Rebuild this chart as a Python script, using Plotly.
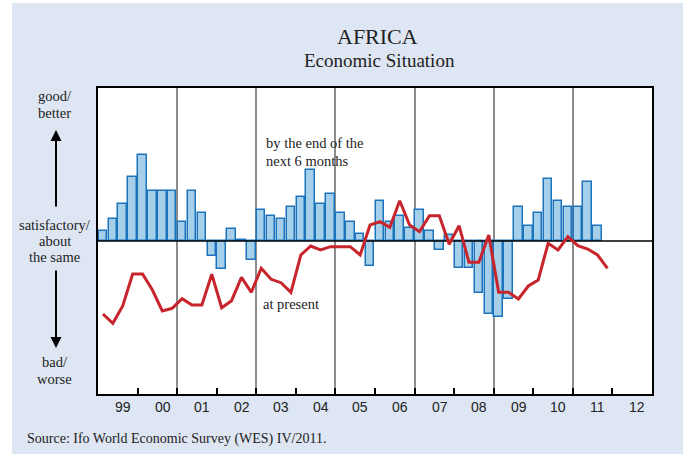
import plotly.graph_objects as go

# Ifo World Economic Survey, Africa: economic situation, quarterly balances
start_year = 1999
expectations_6m = [10, 21.7, 37.3, 64.3, 86, 49.7, 49.7, 49.7, 18.7, 49.7,
                   28, -15, -28, 12.3, 0.7, -19, 30.7, 25.3, 21.7, 34.3,
                   43.7, 70.7, 37.3, 46.7, 28, 18.7, 6.7, -24.7, 39.7, 19.3,
                   25.3, 12.7, 30.7, 9.7, -9.3, 6.3, -27.3, -27.3, -51.7, -73.3,
                   -76.3, -58.3, 34.3, 15.3, 28.3, 61.7, 40, 34.3, 34.3, 58.7, 15.3]
present = [-73, -82.3, -65, -33, -33, -49, -70, -67.3, -57.7, -64,
           -64, -33.3, -66.7, -59.7, -36.3, -51.3, -27.3, -38.3, -41.7, -51.3,
           -14, -5, -9, -5.7, -5.7, -5.7, -14, 16, 19.3, 13.7,
           40.3, 16, 9.3, 25.3, 25.3, -3.3, 15.3, -21.3, -21.3, 6,
           -51.3, -51.3, -58, -45, -39, -2.3, -9, 4.3, -4.7, -8, -14, -27.3]
year_labels = ["99", "00", "01", "02", "03", "04", "05", "06", "07", "08",
               "09", "10", "11", "12"]
first_year, last_year = 1999, 2013
y_limit = 153

# quarter midpoints as fractional years
def quarter_mid(i):
    return start_year + 0.25 * i + 0.125

bar_x = [quarter_mid(i) for i in range(len(expectations_6m))]
line_x = [quarter_mid(i) for i in range(len(present))]

# plot-area geometry (pixels) for placing text outside the axes
W, H = 690, 454
L, R, T, B = 98, 38, 88, 60
PW, PH = W - L - R, H - T - B

def px(x):
    return (x - L) / PW

def py(y):
    return (H - B - y) / PH

SERIF = "Liberation Serif, Times New Roman, serif"
SANS = "Liberation Sans, Arial, sans-serif"
TXT = "#222222"
PANEL = "#dee6f3"

fig = go.Figure()
fig.add_trace(go.Bar(
    x=bar_x, y=expectations_6m, width=0.215,
    marker=dict(color="#a6d0ea", line=dict(color="#1b74bb", width=1.5)),
    hoverinfo="skip", showlegend=False,
))
fig.add_trace(go.Scatter(
    x=[first_year, last_year], y=[0, 0], mode="lines",
    line=dict(color="black", width=1.5), hoverinfo="skip", showlegend=False,
))
fig.add_trace(go.Scatter(
    x=line_x, y=present, mode="lines",
    line=dict(color="#c8242c", width=3), hoverinfo="skip", showlegend=False,
))

annotations = []

def text(s, x, y, size, family=SERIF, xanchor="center"):
    annotations.append(dict(
        text=s, x=x, y=y, xref="paper", yref="paper", showarrow=False,
        xanchor=xanchor, yanchor="middle",
        font=dict(family=family, size=size, color=TXT),
    ))

# titles
text("AFRICA", px(377), py(37), 22)
text("Economic Situation", px(379), py(60), 19)

# vertical scale descriptions
for s, yy in [("good/", 95.5), ("better", 112.5), ("satisfactory/", 225),
              ("about", 241), ("the same", 257), ("bad/", 361.5), ("worse", 378.5)]:
    text(s, px(55), py(yy), 14.5)

# series labels inside the plot
text("by the end of the", px(263.5), py(143), 14.5, xanchor="left")
text("next 6 months", px(263.5), py(161), 14.5, xanchor="left")
text("at present", px(261), py(303.5), 14.5, xanchor="left")

# source line
text("Source: Ifo World Economic Survey (WES) IV/2011.", px(24.5), py(439), 14,
     xanchor="left")

# year labels along the bottom
for i, lab in enumerate(year_labels):
    annotations.append(dict(
        text=lab, x=first_year + i + 0.63, y=py(406.5), xref="x", yref="paper",
        showarrow=False, xanchor="center", yanchor="middle",
        font=dict(family=SANS, size=14, color=TXT),
    ))

# arrows: better (up) and worse (down)
annotations.append(dict(
    x=px(56), y=py(130), xref="paper", yref="paper", text="", showarrow=True,
    ax=0, ay=78, arrowhead=2, arrowsize=1.1, arrowwidth=2, arrowcolor="black",
))
annotations.append(dict(
    x=px(56), y=py(348), xref="paper", yref="paper", text="", showarrow=True,
    ax=0, ay=-79, arrowhead=2, arrowsize=1.1, arrowwidth=2, arrowcolor="black",
))

shapes = [
    # light blue panel behind everything
    dict(type="rect", xref="paper", yref="paper", layer="below",
         x0=px(12), x1=px(683), y0=py(H + 2), y1=py(3),
         fillcolor=PANEL, line=dict(width=0)),
    # white plotting area
    dict(type="rect", xref="paper", yref="paper", layer="below",
         x0=0, x1=1, y0=0, y1=1, fillcolor="white", line=dict(width=0)),
]

fig.update_layout(
    width=W, height=H, autosize=False,
    margin=dict(l=L, r=R, t=T, b=B, pad=0),
    paper_bgcolor="white", plot_bgcolor="white",
    bargap=0, showlegend=False,
    annotations=annotations, shapes=shapes,
    xaxis=dict(
        range=[first_year, last_year], fixedrange=True,
        tickmode="array", tickvals=list(range(2001, 2012, 2)),
        showticklabels=False, ticks="inside", ticklen=6, tickwidth=1.5,
        tickcolor="black",
        showgrid=True, gridcolor="#8c8c8c", gridwidth=1.5,
        minor=dict(tickmode="array", tickvals=list(range(2000, 2013, 2)),
                   ticks="inside", ticklen=6, tickwidth=1.5, tickcolor="black",
                   showgrid=False),
        showline=True, linecolor="black", linewidth=2, mirror=True,
        zeroline=False,
    ),
    yaxis=dict(
        range=[-y_limit, y_limit], fixedrange=True,
        showticklabels=False, ticks="", showgrid=False, zeroline=False,
        showline=True, linecolor="black", linewidth=2, mirror=True,
    ),
)

fig.write_html("out.html")
